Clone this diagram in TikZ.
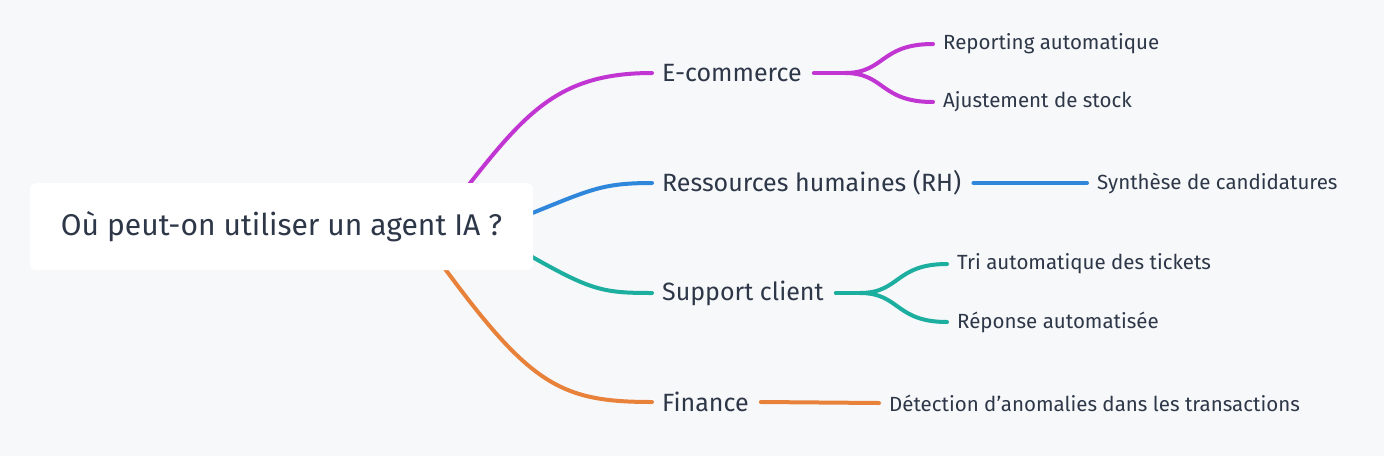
\documentclass[tikz,border=0pt]{standalone}
\usepackage{fontspec}
\setmainfont{Fira Sans}
\definecolor{bgc}{HTML}{F7F8FA}
\definecolor{txt}{HTML}{2D3748}
\definecolor{cmag}{HTML}{C135D2}
\definecolor{cblu}{HTML}{2F87DC}
\definecolor{ctea}{HTML}{1CAE9E}
\definecolor{cora}{HTML}{E8823A}
\tikzset{
  branch/.style={anchor=west,inner sep=0pt,text=txt,font=\fontsize{25}{30}\selectfont},
  leaf/.style={anchor=west,inner sep=0pt,text=txt,font=\fontsize{20.5}{24}\selectfont},
  link/.style={line width=4pt,line cap=round}
}
\begin{document}
\begin{tikzpicture}[x=1pt,y=-1pt]
\fill[bgc] (0,0) rectangle (1384,456);
\useasboundingbox (0,0) rectangle (1384,456);
% branches
\node[branch] (ecom) at (662,73) {E-commerce};
\node[branch] (rh) at (662,183) {Ressources humaines (RH)};
\node[branch] (supp) at (662,293) {Support client};
\node[branch] (fin) at (662,402) {Finance};
% leaves
\node[leaf] (rep) at (943,44) {Reporting automatique};
\node[leaf] (ajus) at (943,102) {Ajustement de stock};
\node[leaf] (synt) at (1097,183) {Synthèse de candidatures};
\node[leaf] (tri) at (957,264) {Tri automatique des tickets};
\node[leaf] (repo) at (957,322) {Réponse automatisée};
\node[leaf] (dete) at (889,403) {Détection d’anomalies dans les transactions};
% connector points
\coordinate (sE) at (445,215);
\coordinate (sR) at (520,218);
\coordinate (sS) at (520,250);
\coordinate (sF) at (440,262);
\coordinate (eE) at (652,73);
\coordinate (eR) at (652,183);
\coordinate (eS) at (652,293);
\coordinate (eF) at (652,402);
\coordinate (kE) at (845,73);
\coordinate (kS) at (860,293);
% root curves
\draw[link,cmag] (sE) .. controls (520,120) and (550,73) .. (eE);
\draw[link,cblu] (sR) .. controls (590,190) and (600,183) .. (eR);
\draw[link,ctea] (sS) .. controls (590,290) and (600,293) .. (eS);
\draw[link,cora] (sF) .. controls (530,385) and (560,402) .. (eF);
% second level
\draw[link,cmag] ([xshift=12pt]ecom.east) -- (kE);
\draw[link,cmag] (kE) .. controls (885,73) and (880,44) .. ([xshift=-10pt]rep.west);
\draw[link,cmag] (kE) .. controls (885,73) and (880,102) .. ([xshift=-10pt]ajus.west);
\draw[link,cblu] ([xshift=12pt]rh.east) -- ([xshift=-10pt]synt.west);
\draw[link,ctea] ([xshift=12pt]supp.east) -- (kS);
\draw[link,ctea] (kS) .. controls (900,293) and (895,264) .. ([xshift=-10pt]tri.west);
\draw[link,ctea] (kS) .. controls (900,293) and (895,322) .. ([xshift=-10pt]repo.west);
\draw[link,cora] ([xshift=12pt]fin.east) -- ([xshift=-10pt]dete.west);
% root
\node[fill=white,rounded corners=6pt,minimum width=503pt,minimum height=87pt,
  text=txt,font=\fontsize{30}{36}\selectfont] (root) at (281.5,226.5) {Où peut-on utiliser un agent IA ?};
\end{tikzpicture}
\end{document}
